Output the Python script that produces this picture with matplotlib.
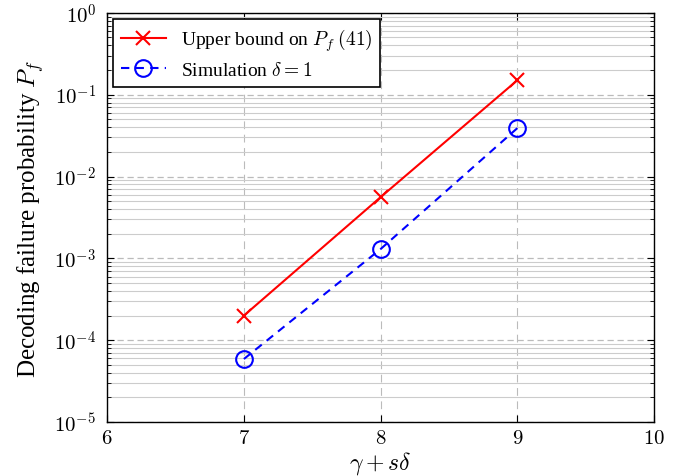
import matplotlib
matplotlib.use("Agg")
import numpy as np
import matplotlib.pyplot as plt
from matplotlib.ticker import LogLocator, NullFormatter, FuncFormatter

plt.rcParams["font.family"] = "serif"
plt.rcParams["font.serif"] = ["Liberation Serif", "DejaVu Serif"]
plt.rcParams["mathtext.fontset"] = "cm"

# data
x_vals = [7, 8, 9]
upper_bound = [2.0e-4, 5.6e-3, 0.15]
simulation = [5.9e-5, 1.3e-3, 0.039]
x_ticks = [6, 7, 8, 9, 10]

fig = plt.figure(figsize=(6.87, 4.77), dpi=100)
ax = fig.add_axes([0.156, 0.113, 0.796, 0.858])

ax.plot(x_vals, upper_bound, color="red", marker="x", markersize=10,
        markeredgewidth=1.5, linewidth=1.5, label=r"Upper bound on $P_f$ $(41)$")
ax.plot(x_vals, simulation, color="blue", linestyle=(0, (4, 3)), marker="o",
        markersize=12, markerfacecolor="none", markeredgewidth=1.5,
        linewidth=1.5, label=r"Simulation $\delta = 1$")

ax.set_yscale("log")
ax.set_xlim(6, 10)
ax.set_ylim(1e-5, 1e0)
ax.set_xticks(x_ticks)
ax.set_xticklabels([f"${v}$" for v in x_ticks])
ax.yaxis.set_major_locator(LogLocator(base=10, numticks=10))
ax.yaxis.set_major_formatter(FuncFormatter(lambda v, p: r"$10^{%d}$" % round(np.log10(v))))
ax.yaxis.set_minor_locator(LogLocator(base=10, subs=range(2, 10), numticks=10))
ax.yaxis.set_minor_formatter(NullFormatter())

ax.grid(True, which="major", axis="x", color="#bbbbbb", linestyle=(0, (7, 5)), linewidth=0.8)
ax.grid(True, which="major", axis="y", color="#bbbbbb", linestyle=(0, (5, 3)), linewidth=0.9)
ax.grid(True, which="minor", axis="y", color="#cccccc", linestyle="-", linewidth=0.8)
ax.set_axisbelow(True)

ax.tick_params(which="both", direction="in", top=True, right=True, labelsize=15)
ax.tick_params(which="major", length=5)
ax.tick_params(axis="x", which="major", pad=5)
ax.tick_params(axis="y", which="major", pad=8)
ax.tick_params(which="minor", length=3)
for s in ax.spines.values():
    s.set_linewidth(1.0)

ax.set_xlabel(r"$\gamma + s\delta$", fontsize=17, labelpad=1)
ax.set_ylabel(r"Decoding failure probability $P_f$", fontsize=18, labelpad=6)

leg = ax.legend(loc="upper left", fontsize=14, fancybox=False, framealpha=1,
                edgecolor="black", borderaxespad=0.3, handlelength=2.3,
                labelspacing=0.4)
leg.get_frame().set_linewidth(1.2)

fig.savefig("out.png", dpi=100)
